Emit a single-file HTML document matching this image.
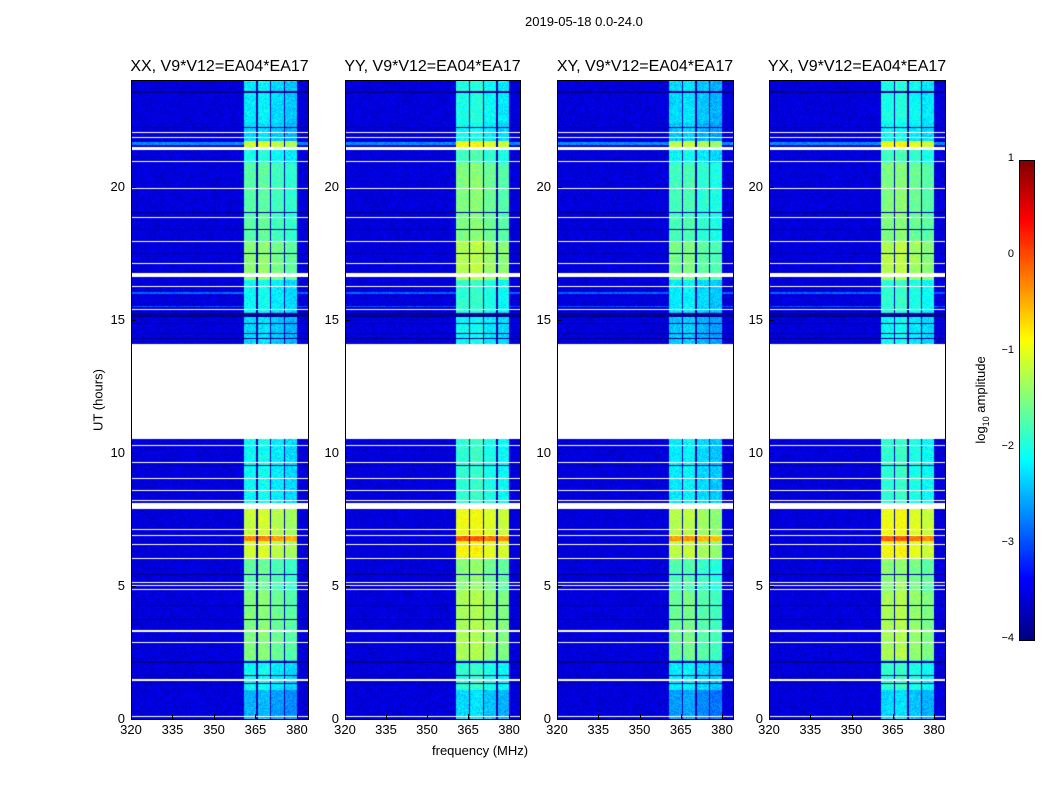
<!DOCTYPE html>
<html><head><meta charset="utf-8">
<style>
body{margin:0;background:#fff;font-family:"Liberation Sans",sans-serif;}
#wrap{position:relative;width:1050px;height:800px;overflow:hidden;background:#fff;}
.t{position:absolute;white-space:nowrap;color:#000;}
canvas{position:absolute;}
.frame{position:absolute;border:1px solid #000;box-sizing:border-box;}
</style></head><body>
<div id="wrap">
<div class="t" style="left:525px;top:14px;font-size:13px;">2019-05-18 0.0-24.0</div>
<div class="t" style="top:400px;font-size:13px;transform:translate(-50%,-50%) rotate(-90deg);left:98px;">UT (hours)</div>
<div class="t" style="left:432px;top:743px;font-size:13px;">frequency (MHz)</div>
<div class="t" style="left:982px;top:400px;font-size:13px;transform:translate(-50%,-50%) rotate(-90deg);">log<sub style="font-size:9px">10</sub> amplitude</div>
</div>
<script>
// ---- data ----
const panelTitles = ["XX, V9*V12=EA04*EA17","YY, V9*V12=EA04*EA17","XY, V9*V12=EA04*EA17","YX, V9*V12=EA04*EA17"];
const panelBandOffset = [0, 0.2, -0.1, 0.2];
const yTicks = [0,5,10,15,20];
const xTicks = [320,335,350,365,380];
const cbTicks = [1,0,-1,-2,-3,-4];
const freqRange = [320,384];
const hourRange = [0,24];
const gapHours = [10.5,14.1];
const backgroundLevel = -3.55;
const bandSegStart = [0,1.1,2.2,4.8,6.0,6.7,6.9,7.9,14.1,15.3,16.5,17.9,20.9,21.4,21.7,22.4];
const bandSegEnd   = [1.1,2.2,4.8,6.0,6.7,6.9,7.9,10.5,15.3,16.5,17.9,20.9,21.4,21.7,22.4,24];
const bandSegLevel = [-2.6,-2.2,-1.6,-1.75,-1.2,-0.4,-1.25,-2.2,-2.4,-2.2,-1.55,-1.8,-2.1,-1.2,-2.4,-2.3];
const subStart = [360.7,365.8,370.8,375.8];
const subEnd   = [365.3,370.3,375.3,380.0];
const subOffset= [0.1,0.15,0,-0.1];
const whiteH = [22.03,21.84,21.44,20.94,19.92,18.84,17.94,17.11,16.66,16.23,15.38,10.28,9.64,9.04,8.59,8.22,8.0,7.13,6.9,6.57,6.04,5.14,5.03,4.88,3.30,2.89,1.46,0.08];
const whiteW = [0.05,0.05,0.12,0.04,0.06,0.04,0.05,0.04,0.15,0.04,0.06,0.04,0.04,0.04,0.04,0.04,0.22,0.04,0.04,0.04,0.04,0.04,0.04,0.04,0.05,0.04,0.06,0.04];
const darkH = [23.56,22.21,19.02,18.39,17.48,15.16,14.86,14.48,14.3,9.53,5.44,4.28,3.75,2.14,1.65,1.35];
const darkW = [0.06,0.05,0.04,0.04,0.04,0.15,0.04,0.04,0.04,0.05,0.04,0.04,0.04,0.04,0.04,0.04];
const lightH = [21.6,16.0,15.5];
const lightW = [0.12,0.1,0.06];
const lightL = [-2.7,-2.9,-3.0];

// ---- layout ----
const wrap=document.getElementById('wrap');
const panelLeft=[131,345,557,769], panelW=[177,175,176,176], plotTop=80, plotH=639;

function jet(v){
  let t=(v+4)/5; t=Math.max(0,Math.min(1,t));
  const c=x=>Math.max(0,Math.min(1,x));
  return [c(1.5-Math.abs(4*t-3))*255,c(1.5-Math.abs(4*t-2))*255,c(1.5-Math.abs(4*t-1))*255];
}
function texture(x,y){let n=(x*374761393+y*668265263)|0;n=(n^(n>>>13))*1274126177|0;return ((n>>>0)%1000)/1000-0.5;}
function inRows(h,hs,ws){for(let i=0;i<hs.length;i++){if(Math.abs(h-hs[i])<=ws[i]/2)return i;}return -1;}
function value(p,h,f){
  if(h>gapHours[0]&&h<gapHours[1])return null;
  if(inRows(h,whiteH,whiteW)>=0)return null;
  if(inRows(h,darkH,darkW)>=0)return -3.95;
  let bg=backgroundLevel; const li=inRows(h,lightH,lightW); if(li>=0)bg=lightL[li];
  for(let s=0;s<subStart.length;s++){
    if(f>=subStart[s]&&f<subEnd[s]){
      for(let k=0;k<bandSegStart.length;k++){
        if(h>=bandSegStart[k]&&h<bandSegEnd[k])return Math.min(1,bandSegLevel[k]+subOffset[s]+panelBandOffset[p]);
      }
      return bg;
    }
  }
  if(f>=subStart[0]&&f<=subEnd[subEnd.length-1])return -3.8;
  return bg;
}
function mk(tag,cls,name,style,text){
  const e=document.createElement(tag); if(cls)e.className=cls;
  
  
  e.style.cssText=style; if(text!==undefined)e.textContent=text; wrap.appendChild(e); return e;
}
for(let p=0;p<4;p++){
  const L=panelLeft[p],W=panelW[p];
  const cv=document.createElement('canvas');
  
  
  cv.width=W;cv.height=plotH;cv.style.left=L+'px';cv.style.top=plotTop+'px';
  wrap.appendChild(cv);
  const ctx=cv.getContext('2d'); const img=ctx.createImageData(W,plotH);
  for(let y=0;y<plotH;y++){
    const h=hourRange[1]-(y+0.5)/plotH*(hourRange[1]-hourRange[0]);
    for(let x=0;x<W;x++){
      const f=freqRange[0]+(x+0.5)/W*(freqRange[1]-freqRange[0]);
      const v=value(p,h,f); const i=(y*W+x)*4;
      if(v===null){img.data[i]=img.data[i+1]=img.data[i+2]=255;}
      else{const c=jet(v+0.4*texture(x+p*1000,y));img.data[i]=c[0];img.data[i+1]=c[1];img.data[i+2]=c[2];}
      img.data[i+3]=255;
    }
  }
  ctx.putImageData(img,0,0);
  mk('div','frame','panel-frame-'+p,`left:${L}px;top:${plotTop}px;width:${W+1}px;height:${plotH+1}px;`);
  mk('div','t','panel-title-'+p,`left:${L+W/2}px;top:${plotTop-22}px;font-size:16px;transform:translateX(-50%);`,panelTitles[p]);
  yTicks.forEach(t=>{
    const y=plotTop+plotH-(t-hourRange[0])/(hourRange[1]-hourRange[0])*plotH;
    mk('div','t','y-tick-label',`left:${L-6}px;top:${y-8}px;font-size:13px;transform:translateX(-100%);`,String(t));
    mk('div','','y-tick',`position:absolute;left:${L}px;top:${y}px;width:5px;height:1px;background:#000;`);
  });
  xTicks.forEach(t=>{
    const x=L+(t-freqRange[0])/(freqRange[1]-freqRange[0])*W;
    mk('div','t','x-tick-label',`left:${x}px;top:${plotTop+plotH+3}px;font-size:13px;transform:translateX(-50%);`,String(t));
    mk('div','','x-tick',`position:absolute;left:${x}px;top:${plotTop+plotH-5}px;width:1px;height:5px;background:#000;`);
  });
}
const cb=document.createElement('canvas');


cb.width=15;cb.height=480;cb.style.left='1019px';cb.style.top='160px';wrap.appendChild(cb);
const cctx=cb.getContext('2d');
for(let y=0;y<480;y++){const c=jet(1-(y+0.5)/480*5);cctx.fillStyle=`rgb(${c[0]|0},${c[1]|0},${c[2]|0})`;cctx.fillRect(0,y,15,1);}
mk('div','frame','colorbar-frame','left:1019px;top:160px;width:16px;height:481px;');
cbTicks.forEach(t=>{
  const y=160+(1-t)/5*480;
  mk('div','t','colorbar-tick-label',`left:1014px;top:${y-8}px;font-size:11px;transform:translateX(-100%);`,t<0?'\u2212'+(-t):String(t));
});
</script>
</body></html>
